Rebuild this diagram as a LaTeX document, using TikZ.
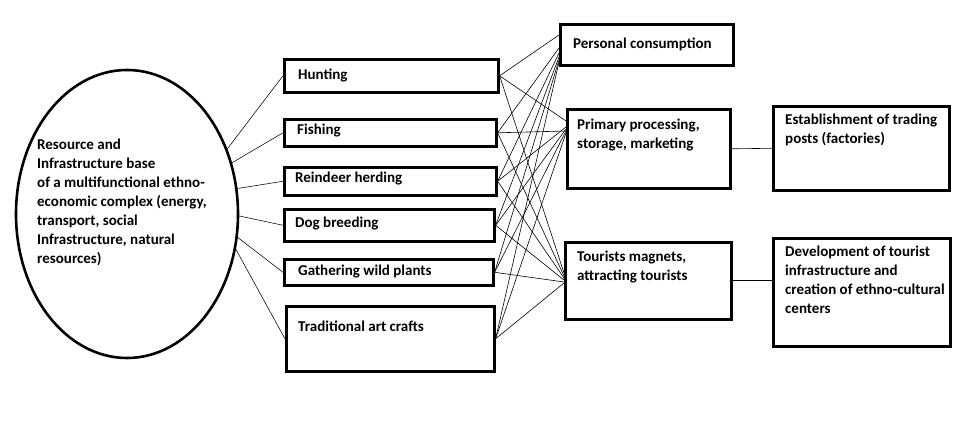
\documentclass[tikz,border=0pt]{standalone}
\usepackage{fontspec}
\setmainfont{Carlito}
\usetikzlibrary{shapes.geometric}
\begin{document}
\begin{tikzpicture}[x=1pt,y=-1pt,
  box/.style={draw,line width=2.6pt,inner sep=0pt,anchor=north west},
  txt/.style={font=\bfseries\fontsize{15}{19}\selectfont,inner sep=0pt,align=left},
  link/.style={line width=0.6pt},
  spoke/.style={line width=0.55pt}]
\useasboundingbox (0,0) rectangle (974,443);
% ellipse
\node[draw,ellipse,line width=2.6pt,minimum width=222pt,minimum height=288pt,inner sep=0pt] (base) at (127,214) {};
\node[txt,anchor=north west] (basetxt) at (37,139) {Resource and\\Infrastructure base\\of a multifunctional ethno-\\economic complex (energy,\\transport, social\\Infrastructure, natural\\resources)};
% left column
\node[box,minimum width=214pt,minimum height=33pt] (hunt) at (283,58) {};
\node[box,minimum width=212pt,minimum height=27pt] (fish) at (283,118) {};
\node[box,minimum width=212pt,minimum height=28pt] (rein) at (283,166) {};
\node[box,minimum width=210pt,minimum height=32pt] (dog) at (283,208) {};
\node[box,minimum width=209pt,minimum height=26pt] (gath) at (283,258) {};
\node[box,minimum width=208pt,minimum height=65pt] (trad) at (285,305) {};
\node[txt,anchor=west] (hunttxt) at (298,76) {Hunting};
\node[txt,anchor=west] (fishtxt) at (297,131) {Fishing};
\node[txt,anchor=west] (reintxt) at (295,179) {Reindeer herding};
\node[txt,anchor=west] (dogtxt) at (295,224) {Dog breeding};
\node[txt,anchor=west] (gathtxt) at (298,272) {Gathering wild plants};
\node[txt,anchor=west] (tradtxt) at (298,326) {Traditional art crafts};
% middle column
\node[box,minimum width=173pt,minimum height=41pt] (pc) at (559,23) {};
\node[box,minimum width=163pt,minimum height=79pt] (pp) at (566,108) {};
\node[box,minimum width=166pt,minimum height=77pt] (tm) at (564,241) {};
\node[txt,anchor=west] (pctxt) at (573,44) {Personal consumption};
\node[txt,anchor=north west] (pptxt) at (577,119) {Primary processing,\\storage, marketing};
\node[txt,anchor=north west] (tmtxt) at (577,251) {Tourists magnets,\\attracting tourists};
% right column
\node[box,minimum width=176pt,minimum height=84pt] (est) at (772,105) {};
\node[box,minimum width=177pt,minimum height=108pt] (dev) at (772,237) {};
\node[txt,anchor=north west] (esttxt) at (785,114) {Establishment of trading\\posts (factories)};
\node[txt,anchor=north west] (devtxt) at (785,246) {Development of tourist\\infrastructure and\\creation of ethno-cultural\\centers};
% spokes from ellipse
\draw[spoke] (base.33) -- (hunt.west);
\draw[spoke] (base.26) -- (fish.west);
\draw[spoke] (base.13) -- (rein.west);
\draw[spoke] (base.-1) -- (dog.west);
\draw[spoke] (base.-12) -- (gath.west);
\draw[spoke] (base.-18) -- (trad.west);
% target points
\coordinate (pc1) at (559,35);
\coordinate (pc2) at (559,48);
\coordinate (pc3) at (559,53);
\coordinate (pc4) at (559,57);
\coordinate (pc5) at (559,60);
\coordinate (pc6) at (559,62);
\coordinate (pp1) at (566,121);
\coordinate (pp2) at (566,131);
\coordinate (pp3) at (566,127);
\coordinate (pp4) at (566,129);
\coordinate (pp5) at (566,131);
\coordinate (pp6) at (566,133);
\coordinate (tm1) at (564,273);
\coordinate (tm2) at (564,276);
\coordinate (tm3) at (564,278);
\coordinate (tm4) at (564,280);
\coordinate (tm5) at (564,282);
\coordinate (tm6) at (564,283);
% crossing links
\draw[link] (hunt.east) -- (pc1);
\draw[link] (hunt.east) -- (pp1);
\draw[link] (hunt.east) -- (tm1);
\draw[link] (fish.east) -- (pc2);
\draw[link] (fish.east) -- (pp2);
\draw[link] (fish.east) -- (tm2);
\draw[link] (rein.east) -- (pc3);
\draw[link] (rein.east) -- (pp3);
\draw[link] (rein.east) -- (tm3);
\draw[link] (dog.east) -- (pc4);
\draw[link] (dog.east) -- (pp4);
\draw[link] (dog.east) -- (tm4);
\draw[link] (gath.east) -- (pc5);
\draw[link] (gath.east) -- (pp5);
\draw[link] (gath.east) -- (tm5);
\draw[link] (trad.east) -- (pc6);
\draw[link] (trad.east) -- (pp6);
\draw[link] (trad.east) -- (tm6);
% to right column
\draw[link] (pp.east) -- (est.west);
\draw[link] (tm.east) -- (tm.east -| dev.west);
\end{tikzpicture}
\end{document}
